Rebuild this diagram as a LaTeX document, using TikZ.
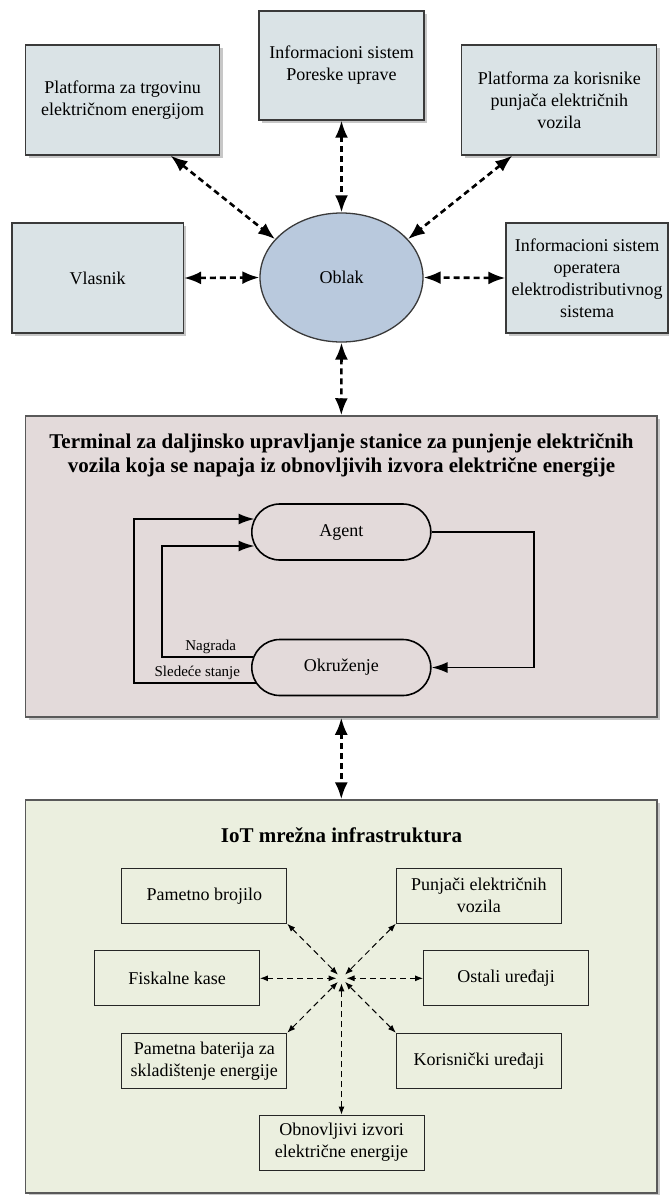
\documentclass[tikz,border=0pt]{standalone}
\usepackage{fontspec}
\setmainfont{Liberation Serif}
\usetikzlibrary{arrows.meta,shapes.geometric,shapes.misc,shadows}
\definecolor{topfill}{HTML}{DAE3E6}
\definecolor{cloudfill}{HTML}{B9C9DD}
\definecolor{pinkfill}{HTML}{E3DADA}
\definecolor{greenfill}{HTML}{EBEFDF}
\definecolor{edge}{HTML}{3A3A3A}
\newcommand{\fsN}{\fontsize{18}{22}\selectfont}
\newcommand{\fsS}{\fontsize{15}{18}\selectfont}
\newcommand{\fsB}{\fontsize{21}{24}\selectfont\bfseries}
\tikzset{
  shadowed/.style={drop shadow={shadow xshift=3pt,shadow yshift=-3pt,fill=black!55,opacity=0.4}},
  topbox/.style={draw=edge, line width=1.3pt, fill=topfill, align=center, inner sep=0pt, font=\fsN, shadowed},
  cloud/.style={ellipse, draw=edge, line width=1.3pt, fill=cloudfill, inner sep=0pt, minimum width=163pt, minimum height=129pt, font=\fsN},
  panel/.style={draw=black!65, line width=1.5pt, inner sep=0pt, minimum width=631.4pt, shadowed},
  paneltitle/.style={align=center, font=\fsB, inner sep=0pt},
  stadium/.style={rounded rectangle, draw=black, line width=1.6pt, inner sep=0pt, minimum width=179pt, minimum height=56pt, font=\fsN},
  iotbox/.style={draw=black!85, line width=0.9pt, align=center, inner sep=0pt, minimum width=165pt, minimum height=55pt, font=\fsN},
  lbl/.style={font=\fsS, inner sep=0pt},
  bigarrow/.style={{Latex[length=17pt,width=13pt]}-{Latex[length=17pt,width=13pt]}, line width=2.6pt, dash pattern=on 6pt off 4pt},
  loopline/.style={-{Latex[length=16pt,width=11pt]}, line width=1.8pt},
  hubarrow/.style={{Latex[length=8pt,width=6pt]}-{Latex[length=8pt,width=6pt]}, line width=1pt, dash pattern=on 6pt off 4pt, shorten >=5pt}
}
\begin{document}
\begin{tikzpicture}[x=1pt,y=-1pt]
\useasboundingbox (0,0) rectangle (669,1195);
\fill[white] (0,0) rectangle (669,1195);

% top layer
\node[topbox, minimum width=194pt, minimum height=110pt] (trg) at (122.6,100) {Platforma za trgovinu\\električnom energijom};
\node[topbox, minimum width=165pt, minimum height=109pt] (por) at (341.5,65.5) {Informacioni sistem\\Poreske uprave};
\node[topbox, minimum width=195pt, minimum height=110pt] (kor) at (559.3,100) {Platforma za korisnike\\punjača električnih\\vozila};
\node[topbox, minimum width=171.5pt, minimum height=110pt] (vla) at (97.7,278) {Vlasnik};
\node[topbox, minimum width=162pt, minimum height=110pt] (ope) at (587,278) {Informacioni sistem\\operatera\\elektrodistributivnog\\sistema};
\node[cloud] (oblak) at (341.5,277.5) {Oblak};

% panels
\node[panel, fill=pinkfill, minimum height=301pt] (pink) at (341.3,566.5) {};
\node[panel, fill=greenfill, minimum height=393pt] (green) at (341.3,996.5) {};

% connectors top
\draw[bigarrow] (por.south) -- (oblak.north);
\draw[bigarrow] ([xshift=48pt]trg.south) -- (oblak.150);
\draw[bigarrow] ([xshift=-47pt]kor.south) -- (oblak.30);
\draw[bigarrow] (vla.east) -- (oblak.west);
\draw[bigarrow] (ope.west) -- (oblak.east);
\draw[bigarrow] (oblak.south) -- (pink.north);
\draw[bigarrow] (pink.south) -- (green.north);

% terminal panel
\node[paneltitle] (ttl) at (341.5,455) {Terminal za daljinsko upravljanje stanice za punjenje električnih\\vozila koja se napaja iz obnovljivih izvora električne energije};
\node[stadium] (agent) at (341.3,532) {Agent};
\node[stadium] (okr) at (341.3,667.5) {Okruženje};
\draw[loopline] (agent.east) -- ++(102.5,0) |- (okr.east);
\draw[loopline] ([xshift=4.7pt,yshift=-15.5pt]okr.west) -- ++(-121.5,0) |- ([xshift=3.5pt,yshift=13pt]agent.west);
\draw[loopline] ([xshift=2.3pt,yshift=10.8pt]okr.west) -- ++(-91.5,0) |- ([xshift=3.5pt,yshift=-14pt]agent.west);
\node[lbl] (nag) at (210.7,646.5) {Nagrada};
\node[lbl] (sled) at (197.3,672.5) {Sledeće stanje};

% IoT panel
\node[paneltitle] (iott) at (341.5,835) {IoT mrežna infrastruktura};
\node[iotbox] (pb) at (204.3,895.8) {Pametno brojilo};
\node[iotbox] (pu) at (478.8,895.8) {Punjači električnih\\vozila};
\node[iotbox] (fk) at (177,978.3) {Fiskalne kase};
\node[iotbox] (os) at (506,978.3) {Ostali uređaji};
\node[iotbox] (bat) at (204.3,1060.7) {Pametna baterija za\\skladištenje energije};
\node[iotbox] (kri) at (478.8,1060.7) {Korisnički uređaji};
\node[iotbox] (obn) at (341.5,1142.5) {Obnovljivi izvori\\električne energije};
\coordinate (hub) at (341.5,978.3);
\draw[hubarrow] (pb.south east) -- (hub);
\draw[hubarrow] (pu.south west) -- (hub);
\draw[hubarrow] (fk.east) -- (hub);
\draw[hubarrow] (os.west) -- (hub);
\draw[hubarrow] (bat.north east) -- (hub);
\draw[hubarrow] (kri.north west) -- (hub);
\draw[hubarrow] (obn.north) -- (hub);
\end{tikzpicture}
\end{document}
